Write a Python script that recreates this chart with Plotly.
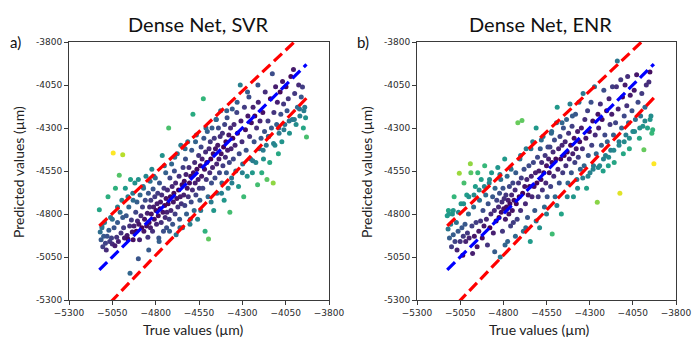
import plotly.graph_objects as go

# ---------------- data ----------------
svr_true = [
    -5125, -5120, -5115, -5110, -5105, -5100, -5095, -5090, -5085, -5075, -5070, -5065, -5060, -5055, -5050, -5045, -5040, -5035, -5032, -4948,
    -5025, -5020, -5015, -5010, -5005, -5000, -4995, -4990, -4985, -4980, -4975, -4970, -4965, -4960, -4955, -4950, -4945, -4940, -4935, -4932, -4930,
    -4925, -4920, -4915, -4912, -4908, -4905, -4900, -4897, -4893, -4890, -4885, -4880, -4876, -4872, -4868, -4864, -4860, -4856, -4852, -4848, -4845, -4842, -4838, -4835, -4832, -4830,
    -4828, -4825, -4822, -4818, -4815, -4812, -4808, -4805, -4802, -4798, -4795, -4792, -4788, -4785, -4782, -4778, -4775, -4772, -4768, -4765, -4762, -4758, -4755, -4752, -4748, -4745, -4742, -4740, -4737, -4735,
    -4732, -4728, -4725, -4722, -4718, -4715, -4712, -4708, -4705, -4702, -4698, -4695, -4692, -4688, -4685, -4682, -4678, -4675, -4672, -4668, -4665, -4662, -4658, -4655, -4652, -4648, -4645, -4642,
    -4638, -4635, -4632, -4628, -4625, -4622, -4618, -4615, -4612, -4608, -4605, -4602, -4598, -4595, -4592, -4588, -4585, -4582, -4578, -4575, -4572, -4568, -4565, -4562, -4558, -4555, -4552, -4548, -4545, -4542,
    -4538, -4535, -4532, -4528, -4525, -4522, -4518, -4515, -4512, -4508, -4505, -4502, -4498, -4495, -4492, -4488, -4485, -4482, -4478, -4475, -4472, -4468, -4465, -4462, -4458, -4455, -4452, -4448, -4446,
    -4442, -4438, -4435, -4432, -4428, -4425, -4422, -4418, -4415, -4412, -4408, -4405, -4402, -4398, -4395, -4392, -4388, -4385, -4382, -4378, -4375, -4372, -4368, -4365, -4362, -4358, -4355, -4352,
    -4348, -4342, -4338, -4332, -4328, -4322, -4318, -4312, -4308, -4302, -4298, -4292, -4288, -4282, -4278, -4272, -4268, -4262, -4258, -4252,
    -4248, -4242, -4238, -4232, -4228, -4222, -4218, -4212, -4208, -4202, -4198, -4192, -4188, -4182, -4178, -4172, -4168, -4162, -4158,
    -4152, -4148, -4142, -4138, -4132, -4127, -4122, -4118, -4112, -4108, -4102, -4098, -4092, -4088, -4082, -4078, -4072, -4068, -4062,
    -4055, -4048, -4042, -4035, -4028, -4020, -4012, -4005, -3998, -3990, -3982, -3975, -3968, -3960, -3953, -3948, -3940, -3935, -3930,
    -5110, -5080, -5050, -5020, -4990, -4960, -4930, -4900, -4870, -4840, -4810, -4780, -4750, -4720, -4690, -4660, -4630, -4600, -4570, -4540,
    -4510, -4480, -4450, -4420, -4390, -4360, -4330, -4300, -4270, -4240, -4210, -4180, -4150, -4120, -4090, -4060, -4030, -4000, -3970, -3945,
]
svr_pred = [
    -4775, -4905, -4950, -4870, -4990, -4930, -4850, -4970, -5010, -4700, -4895, -4960, -4820, -4940, -4975, -4445, -4880, -4985, -4650, -5145,
    -4935, -4850, -4960, -4575, -4790, -4910, -4720, -4455, -4880, -4940, -4650, -4810, -4925, -4945, -4760, -4870, -4600, -4835, -4905, -4680, -4950,
    -4870, -4620, -4790, -4900, -4730, -4840, -4600, -4860, -4950, -4690, -4810, -4880, -4760, -4640, -4900, -4830, -4720, -4580, -4870, -4795, -4935, -4680, -4850, -4760, -4610, -4880,
    -4720, -4800, -4540, -4900, -4655, -4760, -4830, -4700, -4590, -4780, -4860, -4740, -4680, -4810, -4940, -4620, -4770, -4730, -4850, -4690, -4460, -4790, -4900, -4650, -4750, -4820, -4560, -4710, -4880, -4790,
    -4660, -4740, -4300, -4830, -4590, -4700, -4780, -4510, -4640, -4860, -4730, -4680, -4550, -4800, -4620, -4920, -4710, -4450, -4760, -4660, -4580, -4830, -4700, -4400, -4740, -4630, -4880, -4530,
    -4690, -4610, -4750, -4480, -4570, -4800, -4650, -4380, -4700, -4530, -4620, -4860, -4580, -4730, -4430, -4660, -4220, -4560, -4780, -4500, -4620, -4690, -4340, -4540, -4830, -4600, -4460, -4650, -4720, -4520,
    -4410, -4580, -4480, -4650, -4130, -4360, -4540, -4900, -4440, -4600, -4500, -4320, -4700, -4945, -4420, -4560, -4380, -4480, -4620, -4300, -4530, -4450, -4780, -4360, -4590, -4420, -4250, -4510, -4680,
    -4400, -4300, -4480, -4560, -4350, -4200, -4450, -4620, -4330, -4520, -4410, -4720, -4280, -4470, -4380, -4560, -4240, -4430, -4650, -4340, -4500, -4790, -4300, -4420, -4590, -4190, -4360, -4480,
    -4280, -4400, -4550, -4210, -4330, -4640, -4450, -4050, -4260, -4380, -4510, -4700, -4180, -4310, -4430, -4580, -4230, -4120, -4350, -4480,
    -4270, -4560, -4180, -4380, -4230, -4500, -4300, -4630, -4150, -4420, -4260, -4360, -4560, -4210, -4480, -4320, -4090, -4400, -4600,
    -4260, -4350, -4500, -4130, -4300, -3985, -4620, -4210, -4400, -4060, -4280, -4150, -4450, -4330, -4090, -4220, -4380, -4030, -4160,
    -4280, -4060, -4200, -4130, -4330, -4000, -4250, -3960, -4100, -4280, -4180, -4050, -4230, -4120, -4062, -4300, -4180, -4240, -4353,
    -4880, -4930, -4830, -4760, -4820, -4700, -4720, -5060, -4650, -5010, -4580, -4960, -4520, -4900, -4470, -4880, -4420, -4830, -4380, -4780,
    -4300, -4730, -4250, -4680, -4200, -4620, -4150, -4560, -4090, -4490, -4050, -4430, -4350, -4390, -4300, -4310, -4260, -4250, -4190, -4200,
]

enr_true = [
    -5125, -5120, -5118, -5112, -5105, -5100, -5095, -5090, -5085, -5080, -5072, -5068, -5062, -5055, -5050, -5045, -5040, -5035, -5032,
    -5028, -5022, -5018, -5012, -5008, -5002, -4998, -4991, -4988, -4982, -4978, -4972, -4968, -4962, -4958, -4952, -4948, -4942, -4938, -4932,
    -4928, -4922, -4918, -4912, -4908, -4902, -4898, -4892, -4888, -4882, -4878, -4872, -4868, -4862, -4858, -4852, -4848, -4842, -4838, -4832,
    -4828, -4825, -4822, -4818, -4815, -4812, -4808, -4805, -4802, -4798, -4795, -4792, -4788, -4785, -4782, -4778, -4775, -4772, -4768, -4765, -4762, -4758, -4755, -4752, -4748, -4745, -4742, -4738,
    -4732, -4728, -4725, -4720, -4716, -4712, -4708, -4704, -4700, -4696, -4692, -4688, -4684, -4680, -4676, -4672, -4668, -4664, -4660, -4656, -4652, -4648, -4644,
    -4638, -4634, -4630, -4626, -4622, -4618, -4614, -4610, -4606, -4602, -4598, -4594, -4590, -4586, -4582, -4578, -4574, -4570, -4566, -4562, -4558, -4554, -4550, -4546, -4542,
    -4538, -4534, -4530, -4526, -4522, -4518, -4517, -4512, -4508, -4504, -4500, -4496, -4492, -4488, -4484, -4480, -4476, -4472, -4468, -4464, -4460, -4456, -4452, -4448,
    -4442, -4438, -4434, -4430, -4426, -4422, -4418, -4414, -4410, -4406, -4402, -4398, -4394, -4390, -4386, -4382, -4378, -4374, -4370, -4366, -4362, -4358, -4354,
    -4348, -4342, -4338, -4332, -4328, -4322, -4318, -4312, -4308, -4302, -4298, -4292, -4288, -4282, -4278, -4272, -4268, -4262, -4256, -4252,
    -4248, -4242, -4238, -4232, -4228, -4222, -4218, -4212, -4208, -4202, -4198, -4192, -4188, -4182, -4178, -4172, -4168, -4162, -4158,
    -4150, -4145, -4140, -4135, -4130, -4125, -4120, -4115, -4110, -4105, -4100, -4095, -4090, -4085, -4080, -4075, -4070, -4065,
    -4055, -4050, -4042, -4035, -4028, -4020, -4012, -4005, -3998, -3992, -3986, -3980, -3972, -3965, -3957, -3951, -3945, -3940, -3935, -3928,
    -5115, -5090, -5060, -5030, -5000, -4970, -4940, -4910, -4880, -4850, -4820, -4790, -4760, -4730, -4700, -4670, -4640, -4610, -4580, -4550,
    -4520, -4490, -4460, -4430, -4400, -4370, -4340, -4310, -4280, -4250, -4220, -4190, -4160, -4130, -4100, -4070, -4040, -4010, -3980, -3950,
]
enr_pred = [
    -4810, -4887, -4780, -4940, -4860, -4990, -4800, -4920, -4700, -4960, -4850, -5010, -4900, -4563, -4960, -4740, -4880, -5040, -4930,
    -4620, -4860, -4960, -4690, -4910, -4800, -4940, -4508, -4560, -4870, -5030, -4760, -4930, -4640, -4850, -4990, -4560, -4900, -4720, -4840,
    -4600, -4940, -4780, -4870, -4520, -4690, -4830, -4980, -4740, -4620, -4880, -4800, -4560, -4700, -4910, -4780, -4650, -4840, -4720, -4530,
    -4760, -4820, -4680, -5050, -4600, -4790, -4730, -4900, -4650, -4770, -4710, -4480, -4830, -4690, -4760, -4580, -4960, -4720, -4800, -4640, -4740, -4870, -4540, -4690, -4780, -4620, -4850, -4720,
    -4660, -4560, -4740, -4830, -4270, -4620, -4700, -4480, -4780, -4590, -4256, -4680, -4900, -4540, -4640, -4740, -4420, -4600, -4820, -4690, -4520, -4640, -4960,
    -4580, -4700, -4380, -4500, -4640, -4780, -4560, -4300, -4620, -4470, -4700, -4550, -4880, -4420, -4600, -4500, -4660, -4350, -4560, -4760, -4460, -4620, -4520, -4700, -4410,
    -4480, -4560, -4410, -4640, -4330, -4500, -4916, -4440, -4580, -4370, -4700, -4480, -4270, -4179, -4540, -4420, -4620, -4350, -4480, -4800, -4400, -4560, -4300, -4460,
    -4380, -4520, -4250, -4440, -4620, -4330, -4480, -4160, -4400, -4560, -4290, -4450, -4700, -4360, -4500, -4220, -4420, -4600, -4320, -4470, -4150, -4380, -4540,
    -4300, -4420, -4100, -4520, -4250, -4360, -4650, -4200, -4460, -4320, -4560, -4150, -4400, -4260, -4520, -4060, -4340, -4450, -4732, -4220,
    -4300, -4520, -4160, -4400, -4250, -4550, -4080, -4340, -4460, -4200, -4380, -4520, -4130, -4280, -4430, -4220, -4060, -4340, -4500,
    -4270, -4060, -3911, -4190, -4380, -4679, -4020, -4300, -4120, -4450, -4230, -4050, -4340, -4170, -4000, -4270, -4420, -4110,
    -4200, -4320, -4080, -4250, -3990, -4150, -4360, -4230, -4100, -4290, -4427, -4180, -4050, -4300, -4033, -3975, -4230, -4330, -4310, -4508,
    -4800, -4780, -4790, -4740, -4700, -4690, -4660, -4640, -4600, -5020, -4570, -4980, -4530, -4930, -4460, -4880, -4420, -4840, -4370, -4800,
    -4320, -4750, -4270, -4700, -4230, -4650, -4590, -4580, -4540, -4530, -4480, -4470, -4430, -4400, -4380, -4360, -4320, -4300, -4260, -4250,
]

panel_titles = ["Dense Net, SVR", "Dense Net, ENR"]
panel_letters = ["a)", "b)"]
tick_vals = [-5300, -5050, -4800, -4550, -4300, -4050, -3800]
x_tick_text = ["\u22125300", "\u22125050", "\u22124800", "\u22124550", "\u22124300", "\u22124050", "\u22123800"]
y_tick_text = ["-5300", "-5050", "-4800", "-4550", "-4300", "-4050", "-3800"]
band_low, band_high = 1.05, 0.95

# ---------------- figure ----------------
W, H = 694, 338
fig = go.Figure()

panels = [(svr_true, svr_pred), (enr_true, enr_pred)]
x_doms = [(69, 329), (417, 676)]
title_cx = [198, 540]
xlabel_cx = [193, 539]
y_top, y_bot = 42, 300

for i, (tv, pv) in enumerate(panels):
    xa = "x" if i == 0 else "x2"
    ya = "y" if i == 0 else "y2"
    res = [abs(p - t) for t, p in zip(tv, pv)]
    fig.add_trace(go.Scatter(
        x=tv, y=pv, mode="markers", xaxis=xa, yaxis=ya,
        marker=dict(size=5, color=res, colorscale="Viridis", line=dict(width=0)),
        showlegend=False, hoverinfo="skip"))
    lx = [min(tv), max(tv)]
    for factor, col in [(band_high, "red"), (band_low, "red"), (1.0, "blue")]:
        fig.add_trace(go.Scatter(
            x=lx, y=[v * factor for v in lx], mode="lines", xaxis=xa, yaxis=ya,
            line=dict(color=col, width=3.2, dash="11px,5px"),
            showlegend=False, hoverinfo="skip"))

axis_common = dict(
    range=[-5300, -3800], tickvals=tick_vals, showgrid=False, zeroline=False,
    showline=True, linecolor="#3a3a3a", linewidth=1, mirror=True,
    ticks="outside", ticklen=4, tickwidth=1, tickcolor="#3a3a3a", automargin=False,
    tickfont=dict(family="DejaVu Sans", size=9, color="#2a2a2a"),
)

layout = dict(width=W, height=H, margin=dict(l=0, r=0, t=0, b=0, pad=0, autoexpand=False),
              paper_bgcolor="white", plot_bgcolor="white")
for i, (x0, x1) in enumerate(x_doms):
    sfx = "" if i == 0 else "2"
    layout["xaxis" + sfx] = dict(axis_common, domain=[x0 / W, x1 / W], ticktext=x_tick_text,
                                 anchor="y" + sfx)
    layout["yaxis" + sfx] = dict(axis_common, domain=[1 - y_bot / H, 1 - y_top / H], ticktext=y_tick_text,
                                 anchor="x" + sfx)
fig.update_layout(**layout)

ann = []
title_font = dict(family="Lato", size=20, color="#111111")
label_font = dict(family="Lato", size=14, color="#222222")
for i, (x0, x1) in enumerate(x_doms):
    ann.append(dict(x=title_cx[i] / W, y=1 - 24 / H, xref="paper", yref="paper", text=panel_titles[i],
                    showarrow=False, font=title_font, xanchor="center", yanchor="middle"))
    ann.append(dict(x=(x0 - 54) / W, y=1 - 42 / H, xref="paper", yref="paper", text=panel_letters[i],
                    showarrow=False, font=dict(family="Lato", size=15, color="#111111"),
                    xanchor="center", yanchor="middle"))
    ann.append(dict(x=xlabel_cx[i] / W, y=1 - 329 / H, xref="paper", yref="paper", text="True values (\u00b5m)",
                    showarrow=False, font=label_font, xanchor="center", yanchor="middle"))
    ann.append(dict(x=(x0 - 51) / W, y=1 - 172 / H, xref="paper", yref="paper", text="Predicted values (\u00b5m)",
                    showarrow=False, font=label_font, textangle=-90, xanchor="center", yanchor="middle"))
fig.update_layout(annotations=ann)

fig.write_html("out.html", config={"displayModeBar": False},
               post_script="document.body.style.margin='0';document.body.style.padding='0';")
